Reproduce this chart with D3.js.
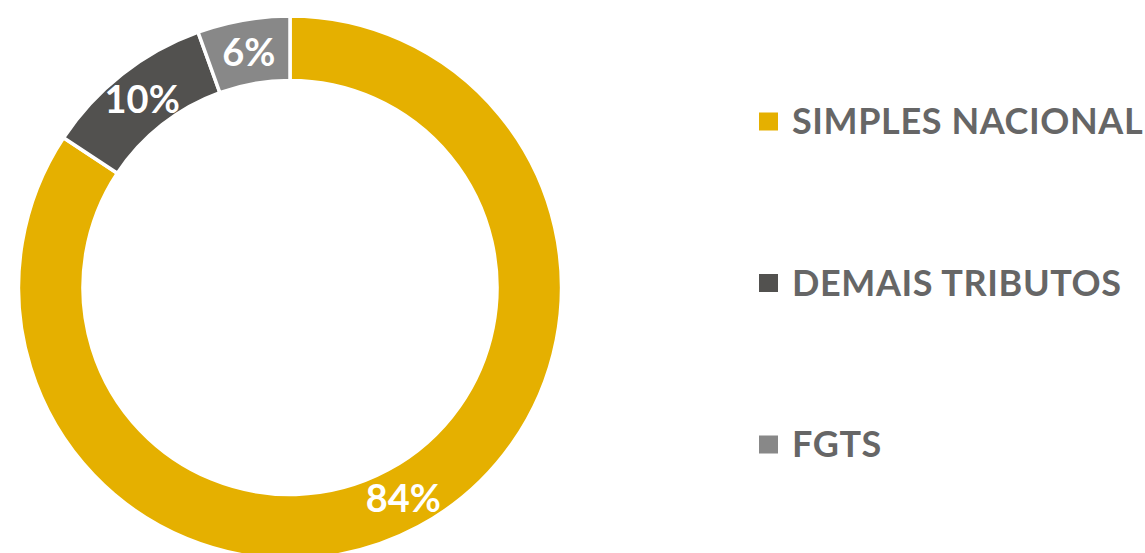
<!doctype html>
<html>
  <head>
    <script src="https://cdn.jsdelivr.net/npm/d3@7/dist/d3.min.js"></script>
    <style>
      body, html {
        margin: 0;
        background: #fff;
      }
      svg {
        display: block;
      }
      text {
        font-family: Lato, "Open Sans", sans-serif;
        font-weight: bold;
      }
      text.label {
        fill: #fff;
        font-size: 38px;
      }
      text.legend {
        fill: #666666;
        font-size: 36px;
        letter-spacing: 0.6px;
      }
    </style>
  </head>
  <body>
    <svg width="1145" height="553"></svg>
    <script>
      var categories = ["SIMPLES NACIONAL", "DEMAIS TRIBUTOS", "FGTS"];
      var values = [84.3, 10.2, 5.5];
      var colors = ["#E5B000", "#52514F", "#888888"];

      var width = 1145, height = 553;
      var cx = 290, cy = 287.5;
      var outerR = 271.5, innerR = 207;

      var svg = d3.select("svg");

      var pie = d3.pie().sort(null).value(d => d.value);
      var arc = d3.arc().innerRadius(innerR).outerRadius(outerR);

      var data = categories.map((c, i) => ({name: c, value: values[i], color: colors[i]}));
      var arcs = pie(data);

      var g = svg.append("g").attr("transform", "translate(" + cx + "," + cy + ")");

      g.selectAll("path.slice")
        .data(arcs)
        .enter()
        .append("path")
          .attr("class", "slice")
          .attr("d", arc)
          .attr("fill", d => d.data.color)
          .attr("stroke", "#fff")
          .attr("stroke-width", 3.5);

      var total = d3.sum(values);
      g.selectAll("text.label")
        .data(arcs)
        .enter()
        .append("text")
          .attr("class", "label")
          .attr("text-anchor", "middle")
          .attr("dy", "0.36em")
          .attr("transform", d => "translate(" + arc.centroid(d) + ")")
          .text(d => Math.round(d.data.value / total * 100) + "%");

      // legend
      var legendY = d3.scalePoint().domain(categories).range([121.5, 444.5]);
      var legend = svg.selectAll("g.legend")
        .data(data)
        .enter()
        .append("g")
          .attr("class", "legend")
          .attr("transform", d => "translate(759," + legendY(d.name) + ")");

      legend.append("rect")
        .attr("x", 0)
        .attr("y", -9)
        .attr("width", 19)
        .attr("height", 18)
        .attr("fill", d => d.color);

      legend.append("text")
        .attr("class", "legend")
        .attr("x", 33)
        .attr("y", 12.5)
        .text(d => d.name);
    </script>
  </body>
</html>
